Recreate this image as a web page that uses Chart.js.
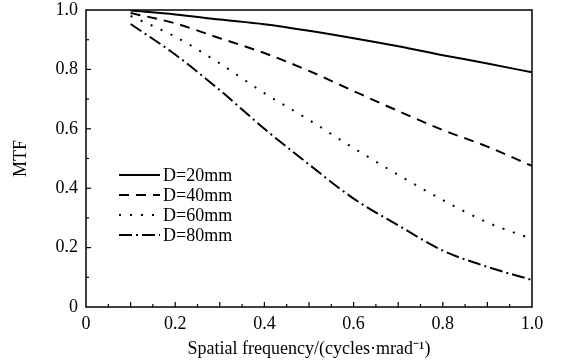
<!DOCTYPE html>
<html>
<head>
<meta charset="utf-8">
<script src="https://cdn.jsdelivr.net/npm/chart.js@4/dist/chart.umd.min.js"></script>
<style>
  html, body { margin: 0; padding: 0; background: #fff; }
  #wrap { width: 562px; height: 362px; }
</style>
</head>
<body>
<div id="wrap"><canvas id="myChart" width="562" height="362"></canvas></div>
<script>
'use strict';

// **************************** DATA ****************************

let freqs = [0.1, 0.2, 0.3, 0.4, 0.5, 0.6, 0.7, 0.8, 0.9, 1.0];
let mtf20 = [0.998, 0.985, 0.968, 0.952, 0.930, 0.905, 0.878, 0.848, 0.820, 0.790];
let mtf40 = [0.990, 0.955, 0.905, 0.855, 0.795, 0.727, 0.660, 0.596, 0.540, 0.475];
let mtf60 = [0.980, 0.910, 0.820, 0.720, 0.630, 0.535, 0.445, 0.360, 0.285, 0.229];
let mtf80 = [0.953, 0.850, 0.730, 0.600, 0.480, 0.365, 0.275, 0.190, 0.135, 0.091];
let seriesLabels = ['D=20mm', 'D=40mm', 'D=60mm', 'D=80mm'];
let xTitle = 'Spatial frequency/(cycles\u00b7mrad\u207b\u00b9)';
let yTitle = 'MTF';

// **************************** HELPERS ****************************

const FONT = '"Liberation Serif", "Times New Roman", serif';

function toPoints(ys) {
  return ys.map((y, i) => ({ x: freqs[i], y: y }));
}

function tickLabel(v) {
  let r = Math.round(v * 10);
  if (r % 2 !== 0) return '';
  return r === 0 ? '0' : (r / 10).toFixed(1);
}

let dashes = [[], [10, 7], [2, 9], [13, 4, 2, 4]];
let allSeries = [mtf20, mtf40, mtf60, mtf80];

let datasets = allSeries.map((ys, i) => ({
  label: seriesLabels[i],
  data: toPoints(ys),
  borderColor: '#000',
  borderWidth: 2,
  borderDash: dashes[i],
  pointRadius: 0,
  fill: false,
  cubicInterpolationMode: 'monotone'
}));

// **************************** PLUGIN: frame, inward ticks, legend ****************************

let framePlugin = {
  id: 'frame',
  afterDraw(chart) {
    let c = chart.ctx;
    let a = chart.chartArea;
    let xs = chart.scales.x;
    let ys = chart.scales.y;
    c.save();
    c.strokeStyle = '#000';
    c.lineWidth = 1.5;
    c.setLineDash([]);
    c.strokeRect(a.left, a.top, a.right - a.left, a.bottom - a.top);

    c.lineWidth = 1.2;
    // x ticks every 0.05, longer every 0.1
    for (let k = 1; k < 20; k++) {
      let px = xs.getPixelForValue(k * 0.05);
      let len = k % 2 === 0 ? 5 : 3;
      c.beginPath();
      c.moveTo(px, a.bottom);
      c.lineTo(px, a.bottom - len);
      c.stroke();
    }
    // y ticks every 0.1, longer every 0.2
    for (let k = 1; k < 10; k++) {
      let py = ys.getPixelForValue(k * 0.1);
      let len = k % 2 === 0 ? 5 : 3;
      c.beginPath();
      c.moveTo(a.left, py);
      c.lineTo(a.left + len, py);
      c.stroke();
    }

    // legend
    let lx = 119, ly = 175, step = 20;
    c.font = '18px ' + FONT;
    c.fillStyle = '#000';
    c.textBaseline = 'middle';
    chart.data.datasets.forEach((ds, i) => {
      let y = ly + i * step;
      c.lineWidth = 2;
      c.setLineDash(ds.borderDash);
      c.beginPath();
      c.moveTo(lx, y);
      c.lineTo(lx + 41, y);
      c.stroke();
      c.setLineDash([]);
      c.fillText(ds.label, lx + 44, y + 1);
    });
    c.restore();
  }
};

// **************************** CREATE CHART ****************************

let ctx = document.getElementById('myChart');

new Chart(ctx, {
  type: 'line',
  data: { datasets: datasets },
  options: {
    responsive: false,
    animation: false,
    layout: { padding: { top: 10, right: 30, left: 0, bottom: 0 } },
    plugins: { legend: { display: false }, tooltip: { enabled: false } },
    scales: {
      x: {
        type: 'linear',
        min: 0,
        max: 1,
        afterFit(s) { s.height = 55; s.paddingLeft = 0; s.paddingRight = 0; },
        grid: { display: false, drawTicks: false },
        border: { display: false },
        ticks: {
          stepSize: 0.1,
          autoSkip: false,
          maxRotation: 0,
          padding: 6,
          color: '#000',
          font: { family: FONT, size: 18 },
          callback: tickLabel
        },
        title: {
          display: true,
          text: xTitle,
          color: '#000',
          font: { family: FONT, size: 18 },
          padding: { top: 0, bottom: 2 }
        }
      },
      y: {
        min: 0,
        max: 1,
        afterFit(s) { s.width = 86; s.paddingTop = 0; s.paddingBottom = 0; },
        grid: { display: false, drawTicks: false },
        border: { display: false },
        ticks: {
          stepSize: 0.1,
          autoSkip: false,
          padding: 8,
          color: '#000',
          font: { family: FONT, size: 18 },
          callback: tickLabel
        },
        title: {
          display: true,
          text: yTitle,
          color: '#000',
          font: { family: FONT, size: 18 },
          padding: { top: 10, bottom: 0 }
        }
      }
    }
  },
  plugins: [framePlugin]
});
</script>
</body>
</html>
